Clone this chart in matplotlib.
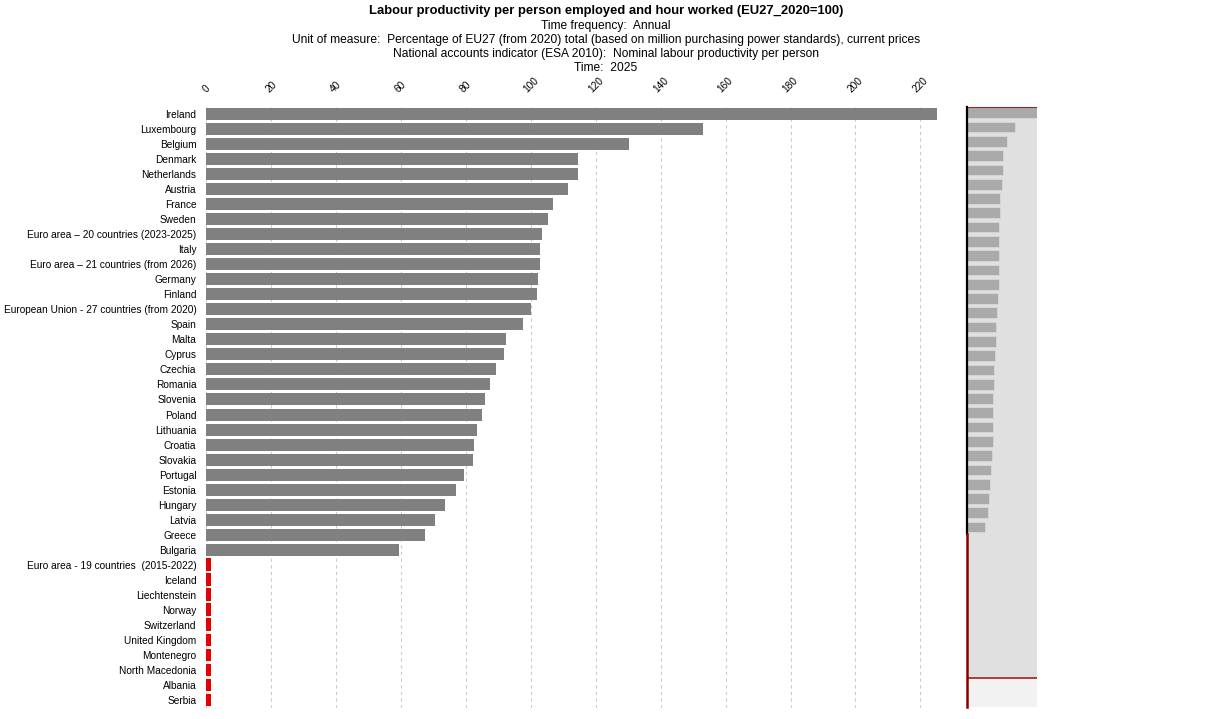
import numpy as np
import matplotlib
matplotlib.use("Agg")
import matplotlib.pyplot as plt

plt.rcParams['font.family'] = ['Liberation Sans', 'DejaVu Sans']

countries = [
    "Ireland", "Luxembourg", "Belgium", "Denmark", "Netherlands", "Austria",
    "France", "Sweden", "Euro area – 20 countries (2023-2025)", "Italy",
    "Euro area – 21 countries (from 2026)", "Germany", "Finland",
    "European Union - 27 countries (from 2020)", "Spain", "Malta", "Cyprus",
    "Czechia", "Romania", "Slovenia", "Poland", "Lithuania", "Croatia",
    "Slovakia", "Portugal", "Estonia", "Hungary", "Latvia", "Greece",
    "Bulgaria", "Euro area - 19 countries  (2015-2022)", "Iceland",
    "Liechtenstein", "Norway", "Switzerland", "United Kingdom", "Montenegro",
    "North Macedonia", "Albania", "Serbia",
]
values = [
    225.1, 153.1, 130.2, 114.6, 114.5, 111.5,
    107.0, 105.2, 103.6, 102.8,
    102.8, 102.1, 102.0,
    100.0, 97.7, 92.3, 91.9,
    89.2, 87.3, 85.8, 85.1, 83.4, 82.6,
    82.1, 79.4, 77.0, 73.5, 70.5, 67.4,
    59.4, None, None,
    None, None, None, None, None,
    None, None, None,
]
xticks = [0, 20, 40, 60, 80, 100, 120, 140, 160, 180, 200, 220]

vals = np.array([np.nan if v is None else v for v in values])
missing = np.isnan(vals)
rows = np.arange(len(countries))

fig = plt.figure(figsize=(12.12, 7.19), dpi=100)

# titles
fig.text(0.5, 1 - 11 / 719, "Labour productivity per person employed and hour worked (EU27_2020=100)",
         ha='center', va='center', fontsize=9.4, fontweight='bold')
subs = ["Time frequency:  Annual",
        "Unit of measure:  Percentage of EU27 (from 2020) total (based on million purchasing power standards), current prices",
        "National accounts indicator (ESA 2010):  Nominal labour productivity per person",
        "Time:  2025"]
for i, s in enumerate(subs):
    fig.text(0.5, 1 - (25.5 + 14.3 * i) / 719, s, ha='center', va='center', fontsize=8.65)

# main chart
ax = fig.add_axes([206 / 1212, 1 - 707.5 / 719, 731 / 1212, 601 / 719])
xmax = np.nanmax(vals)
ax.barh(rows[~missing], vals[~missing], height=0.8, color='#808080', zorder=2)
ax.barh(rows[missing], np.full(missing.sum(), 1.5), height=0.85, color='#e60000', zorder=2)
ax.set_xlim(0, xmax)
ax.set_ylim(len(countries) - 0.5, -0.5)
ax.set_yticks(rows)
ax.set_yticklabels(countries, fontsize=7.25)
ax.xaxis.tick_top()
ax.set_xticks(xticks)
ax.set_xticklabels([str(t) for t in xticks], rotation=45, fontsize=7.3, ha='center', va='bottom')
ax.tick_params(length=0, pad=7)
ax.tick_params(axis='x', pad=9)
ax.grid(axis='x', linestyle=(0, (3, 3)), color='#cccccc', linewidth=0.8, zorder=0)
for sp in ax.spines.values():
    sp.set_visible(False)

# navigator panel on the right
nav = fig.add_axes([967 / 1212, 1 - 707 / 719, 70 / 1212, 600 / 719])
nav.set_facecolor('#e0e0e0')
nav.barh(rows[~missing], vals[~missing], height=0.75, color='#aaaaaa',
         edgecolor='#d8d8d8', linewidth=0.6, zorder=2)
nav.set_xlim(0, xmax)
top, bottom = -0.41, 41.6
nav.set_ylim(bottom, top)
n_ok = (~missing).sum()
band = 39.6
nav.axhspan(band, bottom, color='#f2f2f2', zorder=1)
nav.axhline(band, color='#a02020', linewidth=1.2, zorder=3)
nav.axhline(top, color='#a02020', linewidth=1.5, zorder=3)
nav.plot([0, 0], [top, n_ok - 0.5], color='black', linewidth=1.6, zorder=4, clip_on=False)
nav.plot([0, 0], [n_ok - 0.5, bottom], color='#8b0000', linewidth=1.8, zorder=4, clip_on=False)
nav.set_xticks([])
nav.set_yticks([])
for sp in nav.spines.values():
    sp.set_visible(False)

fig.savefig("out.png", dpi=100)
